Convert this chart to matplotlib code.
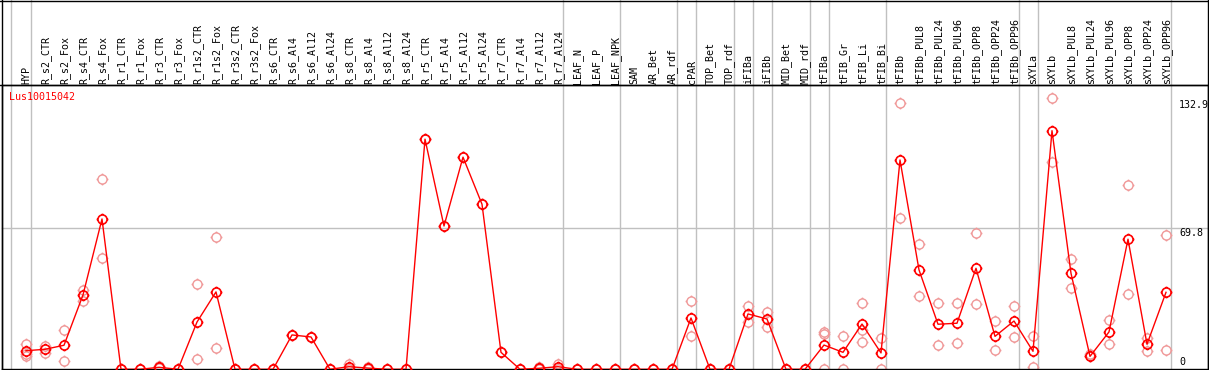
import matplotlib
matplotlib.use("Agg")
import matplotlib.pyplot as plt
from matplotlib.path import Path
from matplotlib.transforms import blended_transform_factory
import numpy as np

labels = ["HYP", "R_s2_CTR", "R_s2_Fox", "R_s4_CTR", "R_s4_Fox", "R_r1_CTR", "R_r1_Fox",
          "R_r3_CTR", "R_r3_Fox", "R_r1s2_CTR", "R_r1s2_Fox", "R_r3s2_CTR", "R_r3s2_Fox",
          "R_s6_CTR", "R_s6_Al4", "R_s6_Al12", "R_s6_Al24", "R_s8_CTR", "R_s8_Al4",
          "R_s8_Al12", "R_s8_Al24", "R_r5_CTR", "R_r5_Al4", "R_r5_Al12", "R_r5_Al24",
          "R_r7_CTR", "R_r7_Al4", "R_r7_Al12", "R_r7_Al24", "LEAF_N", "LEAF_P", "LEAF_NPK",
          "SAM", "AR_Bet", "AR_rdf", "cPAR", "TOP_Bet", "TOP_rdf", "iFIBa", "iFIBb",
          "MID_Bet", "MID_rdf", "tFIBa", "tFIB_Gr", "tFIB_Li", "tFIB_Bi", "tFIBb",
          "tFIBb_PUL8", "tFIBb_PUL24", "tFIBb_PUL96", "tFIBb_OPP8", "tFIBb_OPP24",
          "tFIBb_OPP96", "sXYLa", "sXYLb", "sXYLb_PUL8", "sXYLb_PUL24", "sXYLb_PUL96",
          "sXYLb_OPP8", "sXYLb_OPP24", "sXYLb_OPP96"]

mean_values = [9.2, 9.9, 11.9, 36.8, 74.4, 0, 0, 1.0, 0, 23.4, 38.3, 0, 0,
               0, 17.0, 16.0, 0, 1.3, 0.6, 0, 0, 113.9, 70.9, 105.0, 81.7,
               8.4, 0, 0.5, 1.3, 0, 0, 0, 0, 0, 0, 25.4, 0, 0, 27.4, 24.9,
               0, 0, 12.0, 8.4, 22.4, 8.1, 103.6, 49.2, 22.3, 22.8, 50.0, 16.3,
               23.9, 8.9, 118.1, 47.5, 6.4, 18.5, 64.4, 12.4, 38.1]

replicates = [[12.5, 7.6, 6.6], [11.7, 8.2], [19.5, 4.0], [39.3, 33.8], [54.9, 94.1],
              [0, 0], [0, 0], [1.6, 0.4], [0, 0], [42.2, 5.0], [65.3, 10.5], [0, 0], [0, 0],
              [0, 0], [17.0, 17.0], [16.0, 16.0], [0, 0], [2.6, 0], [1.2, 0], [0, 0], [0, 0],
              [113.9], [70.9], [105.0], [81.7],
              [8.4], [0, 0], [1.0, 0], [2.6, 0], [0, 0], [0, 0], [0, 0], [0, 0], [0, 0], [0, 0],
              [33.8, 16.3], [0, 0], [0, 0], [31.2, 23.4], [28.4, 21.1],
              [0, 0], [0, 0], [18.3, 17.3, 0], [16.5, 0], [32.8, 19.6, 13.4], [15.7, 0],
              [131.7, 74.8], [61.9, 36.1], [32.7, 12.0], [32.7, 12.9], [67.5, 32.2],
              [23.8, 9.4], [31.2, 16.0], [16.5, 1.0], [134.2, 102.5], [54.5, 40.1],
              [7.6, 6.6], [24.4, 12.7], [91.1, 37.1], [15.7, 8.9], [66.3, 9.4]]

group_ends = [0, 28, 31, 34, 35, 37, 38, 39, 41, 42, 45, 52, 53, 60]
gene = "Lus10015042"
y_ticks = [132.9, 69.8, 0]
y_top = 140.7

W, H = 1209, 370
fig = plt.figure(figsize=(W / 100, H / 100), dpi=100)

def fx(px):
    return px / W

def fy(py):
    return 1 - py / H

ax_left, ax_right, ax_top, ax_bot = 2, 1208, 85, 369.3
ax = fig.add_axes([fx(ax_left), fy(ax_bot), fx(ax_right - ax_left), (ax_bot - ax_top) / H])
ax.set_facecolor("none")
x0_px, step_px = 26, 19
ax.set_xlim((ax_left - x0_px) / step_px, (ax_right - x0_px) / step_px)
ax.set_ylim(0, y_top)
ax.set_xticks([])
ax.set_yticks([])
for s in ax.spines.values():
    s.set_color("black")
    s.set_linewidth(1)

# marker: circle with four small ticks
circ = Path.unit_circle()
ticks = []
for dx, dy in [(1, 0), (-1, 0), (0, 1), (0, -1)]:
    ticks.append(Path([(dx * 1.0, dy * 1.0), (dx * 1.3, dy * 1.3)], [Path.MOVETO, Path.LINETO]))
mk = Path.make_compound_path(circ, *ticks)

trans_v = blended_transform_factory(ax.transData, fig.transFigure)
sep_x = [-0.8] + [g + 0.247 for g in group_ends]
for sx in sep_x:
    ax.plot([sx, sx], [0, 1], color="#c0c0c0", lw=1, transform=trans_v, clip_on=False, zorder=0)

# horizontal grid at middle tick
trans_h = blended_transform_factory(fig.transFigure, ax.transData)
ax.plot([fx(ax_left), 1], [y_ticks[1], y_ticks[1]], color="#c0c0c0", lw=1,
        transform=trans_h, clip_on=False, zorder=0)

x = np.arange(len(labels))
for i, reps in enumerate(replicates):
    ax.plot([i] * len(reps), reps, linestyle="none", marker=mk, ms=8.5, mfc="none",
            mec="#f09898", mew=1, zorder=2)
ax.plot(x, mean_values, color="red", lw=1, marker=mk, ms=8.5, mfc="none", mec="red",
        mew=1.2, zorder=3)

mono = "DejaVu Sans Mono"
for i, lab in enumerate(labels):
    fig.text(fx(x0_px + step_px * i + 0.5), fy(83.5), lab, rotation=90, ha="center",
             va="bottom", fontsize=7.2, family=mono, color="black")

fig.text(fx(9), fy(97), gene, color="red", fontsize=7.2, family=mono, ha="left", va="center")

for v in y_ticks:
    ypx = ax_bot - (ax_bot - ax_top) * v / y_top
    if v == 0:
        ypx = 362
    else:
        ypx += 4.5
    fig.text(fx(1179), fy(ypx), f"{v:g}" if v == 0 else f"{v}", fontsize=7.2, family=mono,
             ha="left", va="center", color="black")

# frame lines
fig.add_artist(plt.Line2D([0, 1], [fy(0.5), fy(0.5)], color="black", lw=1, transform=fig.transFigure))
fig.add_artist(plt.Line2D([0, 1], [fy(ax_top), fy(ax_top)], color="black", lw=1, transform=fig.transFigure))
fig.add_artist(plt.Line2D([fx(ax_left), fx(ax_left)], [0, 1], color="black", lw=1, transform=fig.transFigure))
fig.add_artist(plt.Line2D([fx(ax_right), fx(ax_right)], [0, 1], color="black", lw=1, transform=fig.transFigure))

fig.savefig("out.png", dpi=100)
